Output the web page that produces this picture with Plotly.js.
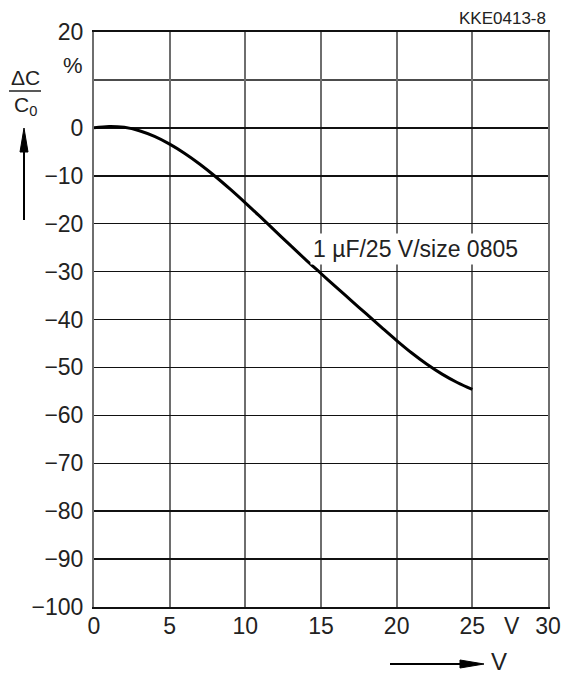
<!DOCTYPE html>
<html>
<head>
<meta charset="utf-8">
<script src="https://cdn.plot.ly/plotly-3.0.1.min.js"></script>
<style>
  html, body { margin: 0; padding: 0; background: #fff; }
  #chart { width: 562px; height: 674px; }
</style>
</head>
<body>
<div id="chart"></div>
<script>
// Capacitance change vs. DC bias voltage, 1 µF / 25 V, size 0805
const voltage = [0, 1, 2, 3, 4, 5, 6, 7, 8, 9, 10, 11, 12, 13, 14, 15, 16, 17, 18, 19, 20, 21, 22, 23, 24, 25];
const deltaC = [0, 0.3, 0.1, -0.6, -1.8, -3.4, -5.35, -7.6, -10.1, -12.8, -15.65, -18.6, -21.6, -24.6, -27.55, -30.4, -33.25, -36.05, -38.85, -41.65, -44.4, -47.0, -49.35, -51.4, -53.15, -54.6];

const xTicks = [0, 5, 10, 15, 20, 25, 30];
const xTickText = ['0', '5', '10', '15', '20', '25', '30'];
// the +10 line carries no number; the unit sign sits just above it instead
const yTicks = [-100, -90, -80, -70, -60, -50, -40, -30, -20, -10, 0, 20];
const yTickText = ['\u2212100', '\u221290', '\u221280', '\u221270', '\u221260', '\u221250', '\u221240', '\u221230', '\u221220', '\u221210', '0', '20'];
const unitLineY = 10;

const curveLabel = '1 µF/25 V/size 0805';
const figureCode = 'KKE0413-8';

const FONT = 'Liberation Sans, Arial, Helvetica, sans-serif';
const TXT = '#222';

// plot frame in page pixels, used to place the decorations around the axes
const L = 94, T = 32, W = 454, H = 575;
const px = v => (v - L) / W;
const py = v => (T + H - v) / H;

const trace = {
  x: voltage,
  y: deltaC,
  type: 'scatter',
  mode: 'lines',
  line: { color: '#000', width: 3, shape: 'spline', smoothing: 1 },
  hoverinfo: 'skip'
};

const frameShapes = [
  // horizontal grid line at +10 (unlabelled)
  { type: 'line', xref: 'paper', yref: 'y', layer: 'below',
    x0: 0, x1: 1, y0: unitLineY, y1: unitLineY,
    line: { color: '#111', width: 1.5 } },
  // upward arrow under the ΔC / C0 label
  { type: 'line', xref: 'paper', yref: 'paper',
    x0: px(24), x1: px(24), y0: py(220), y1: py(145),
    line: { color: '#000', width: 2 } },
  { type: 'path', xref: 'paper', yref: 'paper',
    path: `M ${px(24)} ${py(128)} L ${px(20)} ${py(152)} L ${px(28)} ${py(152)} Z`,
    fillcolor: '#000', line: { color: '#000', width: 1 } },
  // rightward arrow before the voltage unit
  { type: 'line', xref: 'paper', yref: 'paper',
    x0: px(390), x1: px(466), y0: py(664), y1: py(664),
    line: { color: '#000', width: 2 } },
  { type: 'path', xref: 'paper', yref: 'paper',
    path: `M ${px(484)} ${py(664)} L ${px(460)} ${py(660)} L ${px(460)} ${py(668)} Z`,
    fillcolor: '#000', line: { color: '#000', width: 1 } },
  // fraction bar of ΔC / C0
  { type: 'line', xref: 'paper', yref: 'paper',
    x0: px(9), x1: px(41), y0: py(91), y1: py(91),
    line: { color: TXT, width: 1.5 } }
];

const layout = {
  width: 562,
  height: 674,
  margin: { l: L, r: 562 - L - W, t: T, b: 674 - T - H },
  paper_bgcolor: '#fff',
  plot_bgcolor: '#fff',
  showlegend: false,
  font: { family: FONT, size: 23, color: TXT },
  xaxis: {
    range: [0, 30],
    tickvals: xTicks,
    ticktext: xTickText,
    showgrid: true,
    gridcolor: '#6e6e6e',
    gridwidth: 2,
    zeroline: false,
    showline: true,
    mirror: true,
    linecolor: '#111',
    linewidth: 2,
    ticks: '',
    ticklabelstandoff: -3,
    tickfont: { family: FONT, size: 23, color: TXT },
    fixedrange: true
  },
  yaxis: {
    range: [-100, 20],
    tickvals: yTicks,
    ticktext: yTickText,
    showgrid: true,
    gridcolor: '#111',
    gridwidth: 1.5,
    zeroline: false,
    showline: true,
    mirror: true,
    linecolor: '#6e6e6e',
    linewidth: 2,
    ticks: '',
    ticklabelstandoff: 4,
    tickfont: { family: FONT, size: 23, color: TXT },
    fixedrange: true
  },
  shapes: frameShapes,
  annotations: [
    { text: curveLabel, x: 14.3, y: -25.2, xref: 'x', yref: 'y',
      xanchor: 'left', yanchor: 'middle', showarrow: false,
      bgcolor: '#fff', borderpad: 2,
      font: { family: FONT, size: 23, color: TXT } },
    { text: '%', xref: 'paper', yref: 'paper',
      x: px(85), y: py(65),
      xanchor: 'right', yanchor: 'middle', showarrow: false,
      font: { family: FONT, size: 22, color: TXT } },
    { text: 'V', xref: 'paper', yref: 'paper',
      x: px(512), y: py(626),
      xanchor: 'center', yanchor: 'middle', showarrow: false,
      font: { family: FONT, size: 23, color: TXT } },
    { text: 'ΔC', xref: 'paper', yref: 'paper',
      x: px(25), y: py(77),
      xanchor: 'center', yanchor: 'middle', showarrow: false,
      font: { family: FONT, size: 21, color: TXT } },
    { text: 'C<sub>0</sub>', xref: 'paper', yref: 'paper',
      x: px(25), y: py(106),
      xanchor: 'center', yanchor: 'middle', showarrow: false,
      font: { family: FONT, size: 21, color: TXT } },
    { text: 'V', xref: 'paper', yref: 'paper',
      x: px(489), y: py(662),
      xanchor: 'left', yanchor: 'middle', showarrow: false,
      font: { family: FONT, size: 24, color: TXT } },
    { text: figureCode, xref: 'paper', yref: 'paper',
      x: px(548), y: py(18),
      xanchor: 'right', yanchor: 'middle', showarrow: false,
      font: { family: FONT, size: 17, color: '#222' } }
  ]
};

Plotly.newPlot('chart', [trace], layout, { staticPlot: true, displayModeBar: false });
</script>
</body>
</html>
